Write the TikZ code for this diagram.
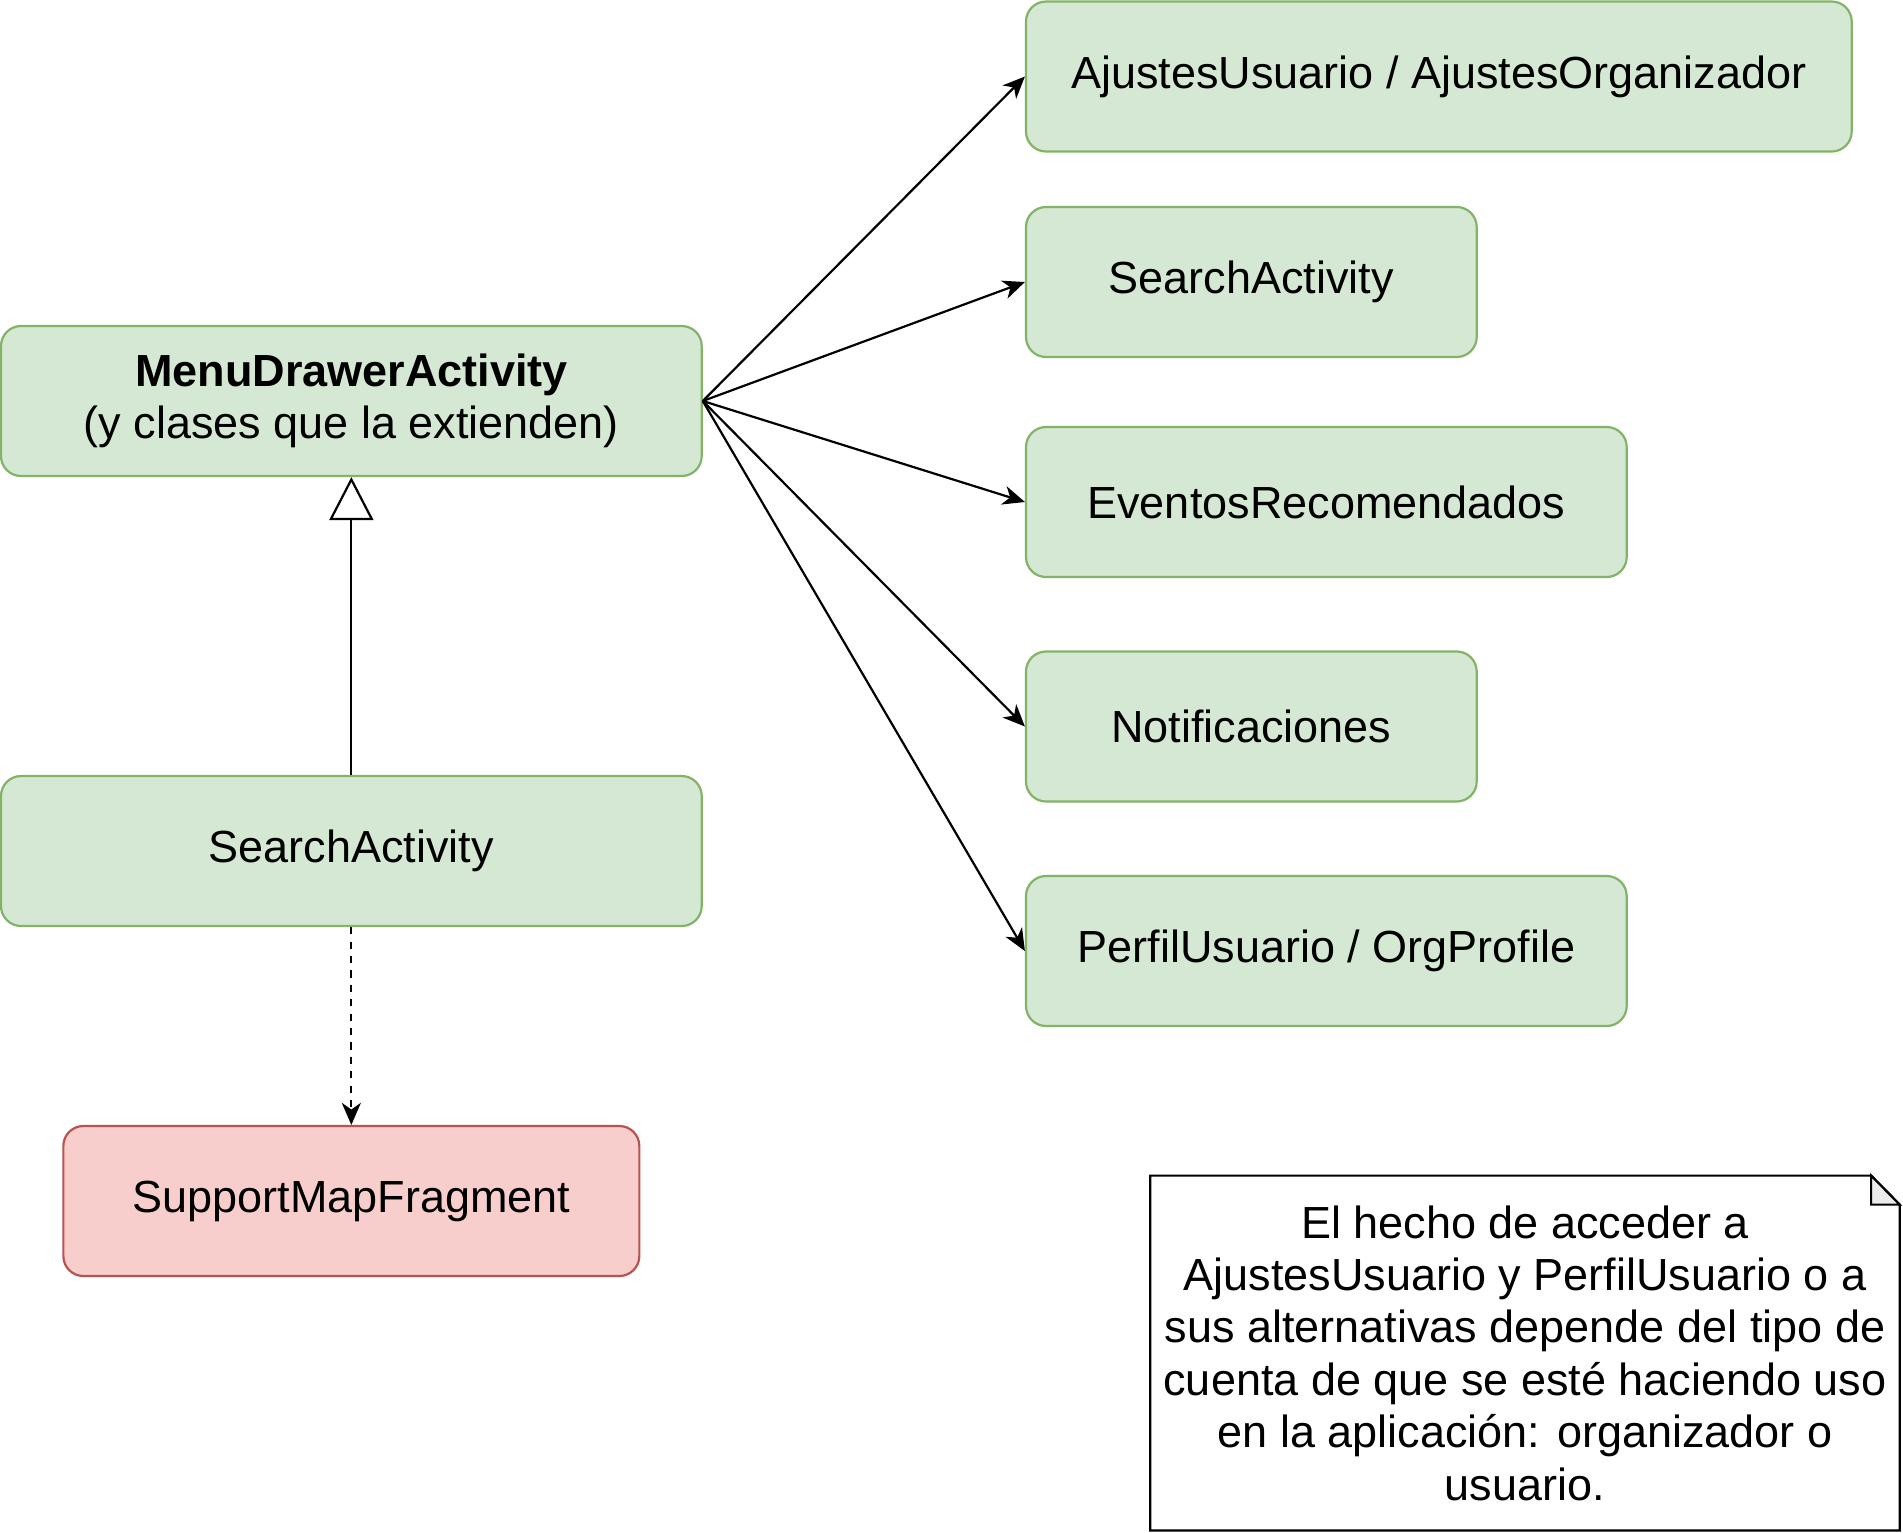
\documentclass[tikz,border=0pt]{standalone}
\usepackage{fontspec}
\setmainfont{Liberation Sans}
\usetikzlibrary{arrows.meta}
\definecolor{gfill}{HTML}{D5E8D4}
\definecolor{gdraw}{HTML}{82B366}
\definecolor{rfill}{HTML}{F8CECC}
\definecolor{rdraw}{HTML}{B85450}
\definecolor{foldfill}{HTML}{EBEBEB}
\tikzset{
  txt/.style={font=\fontsize{22.5pt}{26.2pt}\selectfont},
  basebox/.style={rectangle, rounded corners=10pt, line width=1.1pt, minimum height=75pt,
    inner sep=0pt, align=center, txt},
  gbox/.style={basebox, draw=gdraw, fill=gfill},
  rbox/.style={basebox, draw=rdraw, fill=rfill},
  conn/.style={line width=1.1pt, -{Stealth[length=11pt, width=9.5pt, inset=3.3pt]}},
  inherit/.style={line width=1.1pt, -{Triangle[length=21.5pt, width=22pt, fill=white]}},
  depend/.style={conn, dash pattern=on 3.6pt off 3.6pt},
}
\begin{document}
\begin{tikzpicture}[x=0.5pt,y=-0.5pt]
\useasboundingbox (0,0) rectangle (1903,1533);
\node[gbox, minimum width=350.35pt] (menu) at (351.35,401) {\textbf{MenuDrawerActivity}\\(y clases que la extienden)};
\node[gbox, minimum width=350.35pt] (searchL) at (351.35,851) {SearchActivity};
\node[rbox, minimum width=288pt] (support) at (351.35,1201) {SupportMapFragment};
\node[gbox, minimum width=412.85pt] (ajustes) at (1438.85,76.5) {AjustesUsuario / AjustesOrganizador};
\node[gbox, minimum width=225.35pt] (searchR) at (1251.35,282) {SearchActivity};
\node[gbox, minimum width=300.35pt] (eventos) at (1326.35,502) {EventosRecomendados};
\node[gbox, minimum width=225.35pt] (notif) at (1251.35,726.5) {Notificaciones};
\node[gbox, minimum width=300.35pt] (perfil) at (1326.35,951) {PerfilUsuario / OrgProfile};
% note
\node[rectangle, minimum width=374.3pt, minimum height=177pt, inner sep=0pt] (note) at (1525,1353) {};
\draw[line width=1.1pt, fill=white, line join=miter]
  (note.north west) -- ([xshift=-14.3pt]note.north east) -- ([yshift=-14.5pt]note.north east)
  -- (note.south east) -- (note.south west) -- cycle;
\draw[line width=1.1pt, fill=foldfill, line join=miter]
  ([xshift=-14.3pt]note.north east) -- ([xshift=-14.3pt,yshift=-14.5pt]note.north east)
  -- ([yshift=-14.5pt]note.north east) -- cycle;
\node[inner sep=0pt, align=center, txt] (notetext) at (note.center)
  {El hecho de acceder a\\AjustesUsuario y PerfilUsuario o a\\sus alternativas depende del tipo de\\cuenta de que se esté haciendo uso\\en la aplicación: organizador o\\usuario.};
% connectors
\draw[conn] (menu.east) -- (ajustes.west);
\draw[conn] (menu.east) -- (searchR.west);
\draw[conn] (menu.east) -- (eventos.west);
\draw[conn] (menu.east) -- (notif.west);
\draw[conn] (menu.east) -- (perfil.west);
\draw[inherit] (searchL.north) -- (menu.south);
\draw[depend] (searchL.south) -- (support.north);
\end{tikzpicture}
\end{document}
